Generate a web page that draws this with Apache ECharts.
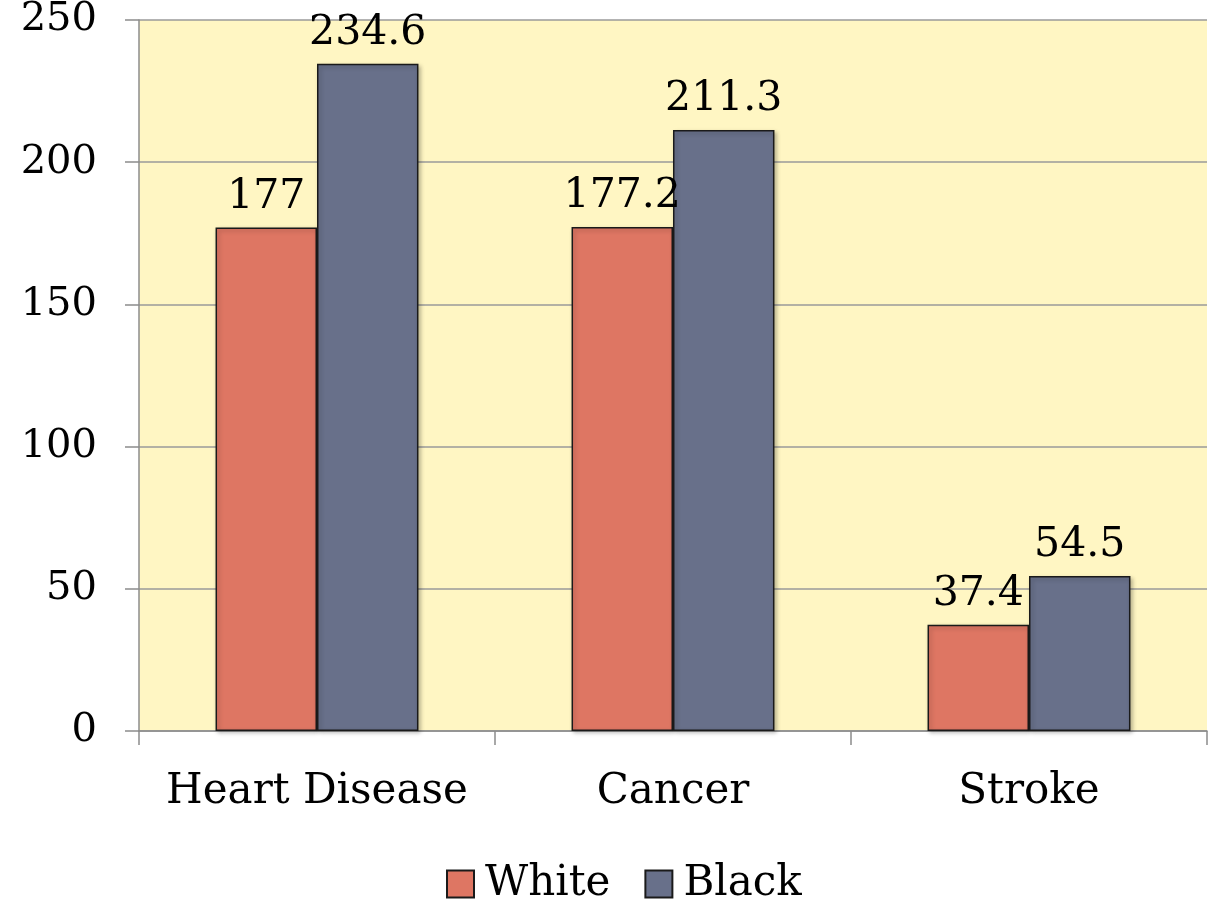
<!DOCTYPE html>
<html><head><meta charset="utf-8">
<script src="https://cdn.jsdelivr.net/npm/echarts@6/dist/echarts.min.js"></script>
<style>html,body{margin:0;padding:0;background:#fff}#c{width:1214px;height:902px}</style>
</head><body><div id="c"></div>
<script>
const categories = ['Heart Disease', 'Cancer', 'Stroke'];
const whiteValues = [177, 177.2, 37.4];
const blackValues = [234.6, 211.3, 54.5];
const yTicks = [0, 50, 100, 150, 200, 250];

const FONT = '"DejaVu Serif", Georgia, serif';
const chart = echarts.init(document.getElementById('c'));
const labelCfg = { show: true, position: 'top', distance: 10, color: '#000', fontFamily: FONT, fontSize: 41 };
const itemBase = { borderColor: '#1a1a1a', borderWidth: 1.5, shadowColor: 'rgba(0,0,0,0.25)', shadowBlur: 4, shadowOffsetX: 2, shadowOffsetY: 2 };
chart.setOption({
  animation: false,
  textStyle: { fontFamily: FONT },
  grid: { left: 139, right: 7, top: 20, bottom: 171, show: true, backgroundColor: '#FFF6C3', borderWidth: 0 },
  legend: {
    bottom: -8, left: 441, itemWidth: 27, itemHeight: 27, itemGap: 34,
    icon: 'rect',
    textStyle: { fontFamily: FONT, fontSize: 42, color: '#000', padding: [0, 0, 0, 6] },
    data: ['White', 'Black']
  },
  xAxis: {
    type: 'category', data: categories,
    axisLine: { show: true, lineStyle: { color: '#8c8c8c', width: 1.5 } },
    axisTick: { show: true, interval: 0, length: 14, lineStyle: { color: '#8c8c8c', width: 1.5 } },
    axisLabel: { interval: 0, color: '#000', fontFamily: FONT, fontSize: 42, margin: 40 }
  },
  yAxis: {
    type: 'value', min: yTicks[0], max: yTicks[yTicks.length - 1], interval: 50,
    axisLine: { show: true, lineStyle: { color: '#8c8c8c', width: 1.5 } },
    axisTick: { show: true, length: 14, lineStyle: { color: '#8c8c8c', width: 1.5 } },
    axisLabel: { color: '#000', fontFamily: FONT, fontSize: 40, margin: 42 },
    splitLine: { show: true, lineStyle: { color: '#9a9a9a', width: 1.5 } }
  },
  series: [
    { name: 'White', type: 'bar', data: whiteValues, barGap: '0%', barCategoryGap: '43%',
      itemStyle: Object.assign({ color: '#DE7663' }, itemBase), label: labelCfg },
    { name: 'Black', type: 'bar', data: blackValues,
      itemStyle: Object.assign({ color: '#68708A' }, itemBase), label: labelCfg }
  ]
});
</script></body></html>
